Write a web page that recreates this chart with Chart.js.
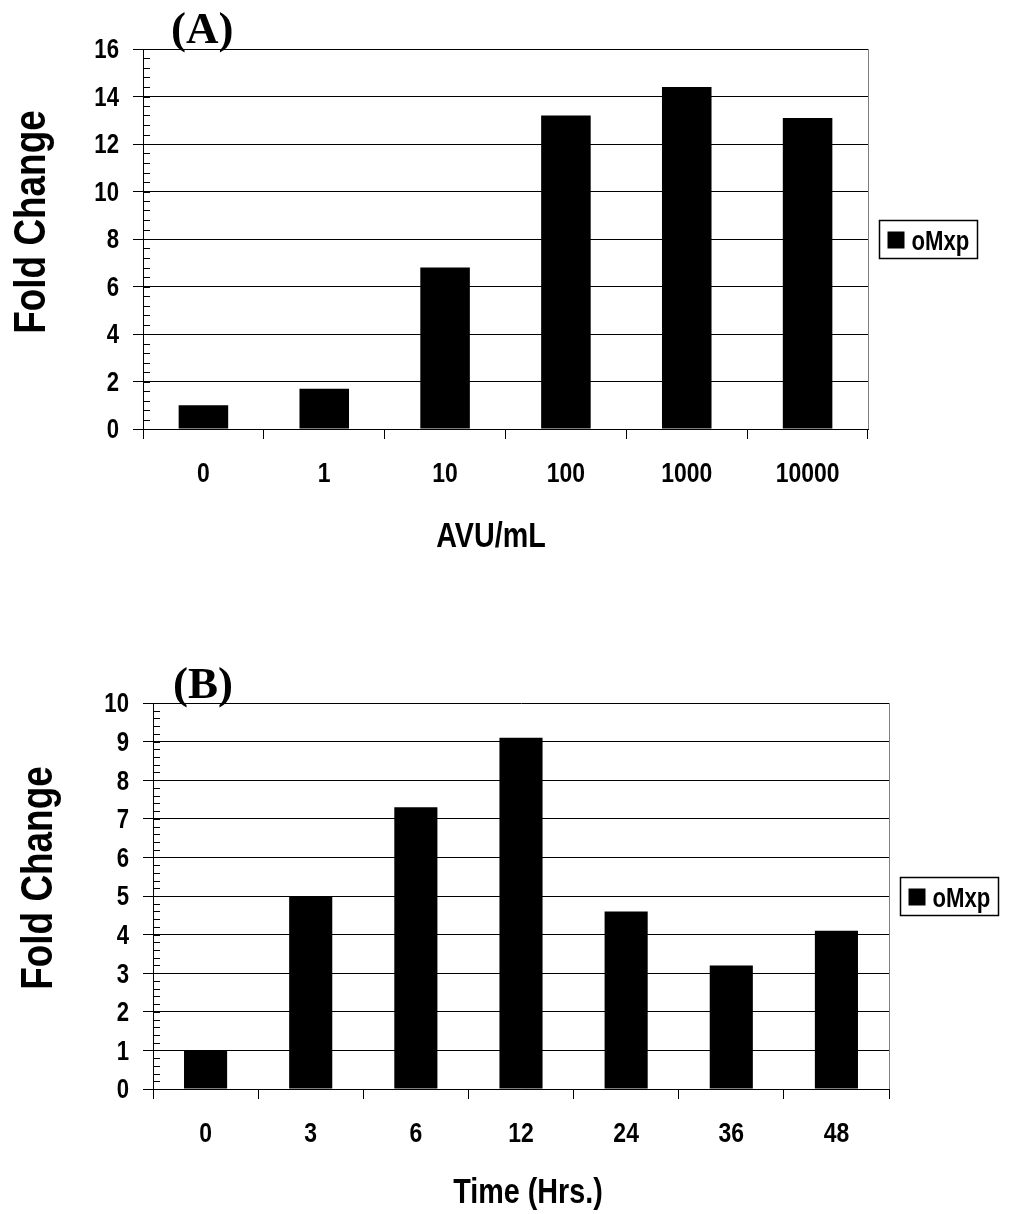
<!DOCTYPE html>
<html>
<head>
<meta charset="utf-8">
<script src="https://cdn.jsdelivr.net/npm/chart.js@4.4.1/dist/chart.umd.min.js"></script>
<style>
  body { margin: 0; background: #fff; }
  .panel { position: absolute; left: 0; width: 1010px; }
  #panel-a { top: 0; height: 600px; }
  #panel-b { top: 600px; height: 614px; }
</style>
</head>
<body>
<div class="panel" id="panel-a"><canvas id="chart-a"></canvas></div>
<div class="panel" id="panel-b"><canvas id="chart-b"></canvas></div>
<script>
// oMxp fold change vs. interferon dose and vs. time
const seriesName = 'oMxp';

const doseLabels = ['0', '1', '10', '100', '1000', '10000'];
const doseFold = [1.0, 1.7, 6.8, 13.2, 14.4, 13.1];
const doseAxisMax = 16;
const doseAxisStep = 2;

const timeLabels = ['0', '3', '6', '12', '24', '36', '48'];
const timeFold = [1.0, 5.0, 7.3, 9.1, 4.6, 3.2, 4.1];
const timeAxisMax = 10;
const timeAxisStep = 1;

const sans = "'Liberation Sans', Arial, sans-serif";
const serif = "'Liberation Serif', 'Times New Roman', serif";
const squeeze = 0.82; // condensed look for the bold sans labels

// fillText squeezed horizontally
function narrowText(ctx, text, x, y) {
  const w = ctx.measureText(text).width;
  ctx.fillText(text, x, y, w * squeeze);
}

// minor ticks, plot frame, tick labels, boxed legend, axis titles and panel letter
const decor = {
  id: 'decor',
  afterDraw(chart, args, opts) {
    const ctx = chart.ctx;
    const area = chart.chartArea;
    const x = chart.scales.x;
    const y = chart.scales.y;
    ctx.save();

    ctx.strokeStyle = '#000';
    ctx.lineWidth = 1;
    const minor = opts.step / 5;
    const count = Math.round(y.max / minor);
    for (let i = 0; i <= count; i++) {
      const py = Math.round(y.getPixelForValue(i * minor)) + 0.5;
      ctx.beginPath();
      ctx.moveTo(area.left, py);
      ctx.lineTo(area.left + 7, py);
      ctx.stroke();
    }

    ctx.strokeStyle = '#808080';
    ctx.beginPath();
    ctx.moveTo(Math.round(area.right) + 0.5, area.top);
    ctx.lineTo(Math.round(area.right) + 0.5, area.bottom);
    ctx.stroke();

    // tick labels
    ctx.fillStyle = '#000';
    ctx.font = 'bold 27px ' + sans;
    ctx.textAlign = 'right';
    ctx.textBaseline = 'middle';
    y.ticks.forEach((t, i) => {
      narrowText(ctx, String(t.value), area.left - 24, y.getPixelForTick(i) + 2);
    });
    ctx.font = 'bold 28px ' + sans;
    ctx.textAlign = 'center';
    ctx.textBaseline = 'alphabetic';
    chart.data.labels.forEach((lab, i) => {
      narrowText(ctx, lab, x.getPixelForTick(i), area.bottom + 53);
    });

    // legend
    const ds = chart.data.datasets[0];
    const boxW = 98, boxH = 38;
    const bx = Math.round(area.right + opts.legendGap) + 0.5;
    const by = Math.round((area.top + area.bottom) / 2 - boxH / 2) + 0.5;
    ctx.fillStyle = '#fff';
    ctx.fillRect(bx, by, boxW, boxH);
    ctx.strokeStyle = '#000';
    ctx.lineWidth = 1.5;
    ctx.strokeRect(bx, by, boxW, boxH);
    ctx.fillStyle = ds.backgroundColor;
    ctx.fillRect(bx + 8, by + 11, 17, 17);
    ctx.fillStyle = '#000';
    ctx.font = 'bold 27px ' + sans;
    ctx.textAlign = 'left';
    narrowText(ctx, ds.label, bx + 32, by + 29);

    // y title
    ctx.font = 'bold 45px ' + sans;
    ctx.textAlign = 'center';
    ctx.save();
    ctx.translate(opts.yTitle.x, opts.yTitle.y);
    ctx.rotate(-Math.PI / 2);
    narrowText(ctx, opts.yTitle.text, 0, 0);
    ctx.restore();

    // x title
    ctx.font = 'bold 35px ' + sans;
    narrowText(ctx, opts.xTitle.text, opts.xTitle.x, opts.xTitle.y);

    // panel letter
    ctx.font = 'bold 45px ' + serif;
    ctx.textAlign = 'left';
    ctx.fillText(opts.letter.text, opts.letter.x, opts.letter.y);

    ctx.restore();
  }
};

function makeChart(id, labels, values, max, step, frame, texts) {
  return new Chart(document.getElementById(id), {
    type: 'bar',
    data: {
      labels: labels,
      datasets: [{
        label: seriesName,
        data: values,
        backgroundColor: '#000',
        borderWidth: 0,
        barPercentage: 0.41,
        categoryPercentage: 1
      }]
    },
    options: {
      responsive: true,
      maintainAspectRatio: false,
      animation: false,
      layout: { padding: { top: frame.top, right: frame.right, left: 0, bottom: 0 } },
      plugins: {
        legend: { display: false },
        tooltip: { enabled: false },
        decor: Object.assign({ step: step, legendGap: 11 }, texts)
      },
      scales: {
        x: {
          grid: { offset: true, drawOnChartArea: false, tickLength: 10, color: '#000' },
          border: { color: '#000' },
          ticks: { display: false },
          afterFit: s => { s.height = frame.xHeight; }
        },
        y: {
          min: 0,
          max: max,
          ticks: { stepSize: step, display: false },
          grid: { color: '#000', tickLength: 10 },
          border: { color: '#000' },
          afterFit: s => { s.width = frame.yWidth; }
        }
      }
    },
    plugins: [decor]
  });
}

makeChart('chart-a', doseLabels, doseFold, doseAxisMax, doseAxisStep,
  { top: 49, right: 142, yWidth: 143, xHeight: 171 },
  {
    yTitle: { text: 'Fold Change', x: 45, y: 222 },
    xTitle: { text: 'AVU/mL', x: 491, y: 547 },
    letter: { text: '(A)', x: 171, y: 43 }
  });

makeChart('chart-b', timeLabels, timeFold, timeAxisMax, timeAxisStep,
  { top: 103, right: 121, yWidth: 153, xHeight: 125 },
  {
    yTitle: { text: 'Fold Change', x: 52, y: 278 },
    xTitle: { text: 'Time (Hrs.)', x: 528, y: 603 },
    letter: { text: '(B)', x: 173, y: 98 }
  });
</script>
</body>
</html>
